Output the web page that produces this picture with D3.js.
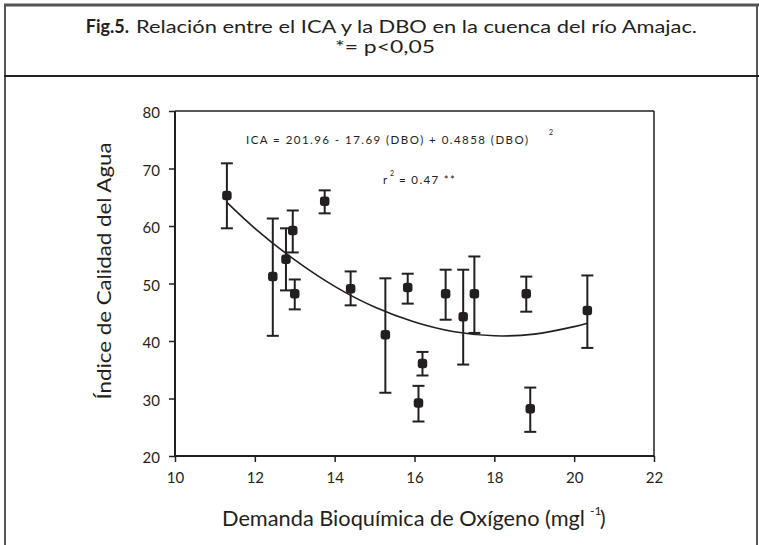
<!DOCTYPE html>
<html>
<head>
<meta charset="utf-8">
<script src="https://cdn.jsdelivr.net/npm/d3@7"></script>
<style>
  body { margin: 0; background: #fff; }
  svg { display: block; font-family: Lato, "Open Sans", sans-serif; }
</style>
</head>
<body>
<div id="chart"></div>
<script>
// values
var dbo     = [11.3, 12.45, 12.78, 12.95, 13.0, 13.75, 14.4, 15.27, 15.83, 16.1, 16.2, 16.78, 17.22, 17.5, 18.8, 18.9, 20.33];
var ica     = [65.3, 51.2, 54.2, 59.2, 48.2, 64.3, 49.1, 41.1, 49.3, 29.2, 36.1, 48.2, 44.2, 48.2, 48.2, 28.2, 45.3];
var icaHigh = [70.9, 61.3, 59.6, 62.7, 50.7, 66.2, 52.1, 50.9, 51.7, 32.2, 38.1, 52.4, 52.4, 54.7, 51.2, 31.9, 51.4];
var icaLow  = [59.6, 40.9, 48.8, 55.4, 45.5, 62.2, 46.2, 31.0, 46.5, 26.0, 34.0, 43.7, 35.9, 41.4, 45.1, 24.2, 38.8];

// fitted curve as drawn
var fitX = [11.3, 12, 13, 14, 15, 16, 17, 18, 19, 20, 20.33];
var fitY = [64.1, 59.6, 54.1, 49.5, 45.9, 43.3, 41.6, 40.9, 41.2, 42.5, 43.1];

var xTicks = [10, 12, 14, 16, 18, 20, 22];
var yTicks = [20, 30, 40, 50, 60, 70, 80];

var W = 759, H = 545;
var ink = "#231f20";

var svg = d3.select("#chart").append("svg")
            .attr("width", W)
            .attr("height", H);

// outer frame
svg.append("line").attr("x1", 5).attr("x2", 5).attr("y1", 4).attr("y2", H)
   .attr("stroke", "#555").attr("stroke-width", 2);
svg.append("line").attr("x1", 757).attr("x2", 757).attr("y1", 4).attr("y2", H)
   .attr("stroke", "#555").attr("stroke-width", 2);
svg.append("line").attr("x1", 4).attr("x2", W).attr("y1", 5).attr("y2", 5)
   .attr("stroke", "#555").attr("stroke-width", 3);
svg.append("line").attr("x1", 4).attr("x2", W).attr("y1", 76).attr("y2", 76)
   .attr("stroke", "#222").attr("stroke-width", 2);

// title
svg.append("text").attr("x", 129).attr("y", 33)
   .attr("text-anchor", "end")
   .attr("font-size", 18).attr("font-weight", "bold").attr("fill", ink)
   .text("Fig.5.");
svg.append("text").attr("x", 136).attr("y", 33)
   .attr("font-size", 18).attr("fill", ink)
   .attr("textLength", 561).attr("lengthAdjust", "spacingAndGlyphs")
   .text("Relación entre el ICA y la DBO en la cuenca del río Amajac.");
svg.append("text").attr("x", 335).attr("y", 53)
   .attr("font-size", 18).attr("fill", ink)
   .attr("textLength", 100).attr("lengthAdjust", "spacingAndGlyphs")
   .text("*= p<0,05");

// scales
var x = d3.scaleLinear().domain([10, 22]).range([175, 654]);
var y = d3.scaleLinear().domain([20, 80]).range([456, 111]);

// box top and right
svg.append("line").attr("x1", x(10)).attr("x2", x(22)).attr("y1", y(80)).attr("y2", y(80))
   .attr("stroke", ink).attr("stroke-width", 1.5);
svg.append("line").attr("x1", x(22)).attr("x2", x(22)).attr("y1", y(80)).attr("y2", y(20))
   .attr("stroke", ink).attr("stroke-width", 1.5);

var xAxis = svg.append("g")
    .attr("transform", "translate(0," + y(20) + ")")
    .call(d3.axisBottom(x).tickValues(xTicks).tickSize(6).tickPadding(10).tickFormat(d3.format("d")));
var yAxis = svg.append("g")
    .attr("transform", "translate(" + x(10) + ",0)")
    .call(d3.axisLeft(y).tickValues(yTicks).tickSize(6).tickPadding(9).tickFormat(d3.format("d")));

[xAxis, yAxis].forEach(function(a){
  a.select(".domain").attr("stroke", ink).attr("stroke-width", 2);
  a.selectAll(".tick line").attr("stroke", ink).attr("stroke-width", 1.5);
  a.selectAll(".tick text").attr("fill", ink).attr("font-size", 15)
   .attr("font-family", "Lato, sans-serif");
});
xAxis.select(".domain").attr("d", "M" + x(10) + ",0H" + x(22));
yAxis.select(".domain").attr("d", "M0," + y(20) + "V" + y(80));
yAxis.selectAll(".tick text").attr("dy", "0.45em");

// fitted curve
var fit = fitX.map(function(v, i){ return [v, fitY[i]]; });
svg.append("path")
   .datum(fit)
   .attr("fill", "none")
   .attr("stroke", ink)
   .attr("stroke-width", 1.6)
   .attr("d", d3.line()
       .x(function(d){ return x(d[0]); })
       .y(function(d){ return y(d[1]); })
       .curve(d3.curveCatmullRom));

// error bars
var pts = dbo.map(function(v, i){ return {x: v, y: ica[i], hi: icaHigh[i], lo: icaLow[i]}; });
var cap = 6;
var bars = svg.append("g").attr("stroke", ink).attr("stroke-width", 2);
bars.selectAll(".stem").data(pts).enter().append("line")
    .attr("x1", function(d){ return x(d.x); })
    .attr("x2", function(d){ return x(d.x); })
    .attr("y1", function(d){ return y(d.hi); })
    .attr("y2", function(d){ return y(d.lo); });
bars.selectAll(".top").data(pts).enter().append("line")
    .attr("x1", function(d){ return x(d.x) - cap; })
    .attr("x2", function(d){ return x(d.x) + cap; })
    .attr("y1", function(d){ return y(d.hi); })
    .attr("y2", function(d){ return y(d.hi); });
bars.selectAll(".bot").data(pts).enter().append("line")
    .attr("x1", function(d){ return x(d.x) - cap; })
    .attr("x2", function(d){ return x(d.x) + cap; })
    .attr("y1", function(d){ return y(d.lo); })
    .attr("y2", function(d){ return y(d.lo); });

// markers
var m = 9.5;
svg.append("g").selectAll("rect").data(pts).enter().append("rect")
   .attr("x", function(d){ return x(d.x) - m / 2; })
   .attr("y", function(d){ return y(d.y) - m / 2; })
   .attr("width", m).attr("height", m)
   .attr("rx", 3)
   .attr("fill", ink);

// equation
svg.append("text").attr("x", 246).attr("y", 144)
   .attr("font-size", 11.5).attr("fill", ink)
   .attr("textLength", 282).attr("lengthAdjust", "spacing")
   .text("ICA = 201.96 - 17.69 (DBO) + 0.4858 (DBO)");
svg.append("text").attr("x", 549).attr("y", 135)
   .attr("font-size", 7).attr("fill", ink)
   .text("2");
svg.append("text").attr("x", 383).attr("y", 184)
   .attr("font-size", 11.5).attr("fill", ink)
   .text("r");
svg.append("text").attr("x", 390).attr("y", 176)
   .attr("font-size", 7).attr("fill", ink)
   .text("2");
svg.append("text").attr("x", 399).attr("y", 184)
   .attr("font-size", 11.5).attr("fill", ink)
   .attr("textLength", 56).attr("lengthAdjust", "spacing")
   .text("= 0.47 **");

// axis titles
svg.append("text").attr("x", 222).attr("y", 526)
   .attr("font-size", 21).attr("fill", ink)
   .attr("textLength", 363).attr("lengthAdjust", "spacingAndGlyphs")
   .text("Demanda Bioquímica de Oxígeno (mgl");
svg.append("text").attr("x", 590).attr("y", 515)
   .attr("font-size", 12).attr("fill", ink)
   .text("-1");
svg.append("text").attr("x", 600).attr("y", 526)
   .attr("font-size", 21).attr("fill", ink)
   .text(")");

svg.append("text")
   .attr("transform", "translate(111,271) rotate(-90)")
   .attr("text-anchor", "middle")
   .attr("font-size", 20).attr("fill", ink)
   .attr("textLength", 257).attr("lengthAdjust", "spacingAndGlyphs")
   .text("Índice de Calidad del Agua");
</script>
</body>
</html>
